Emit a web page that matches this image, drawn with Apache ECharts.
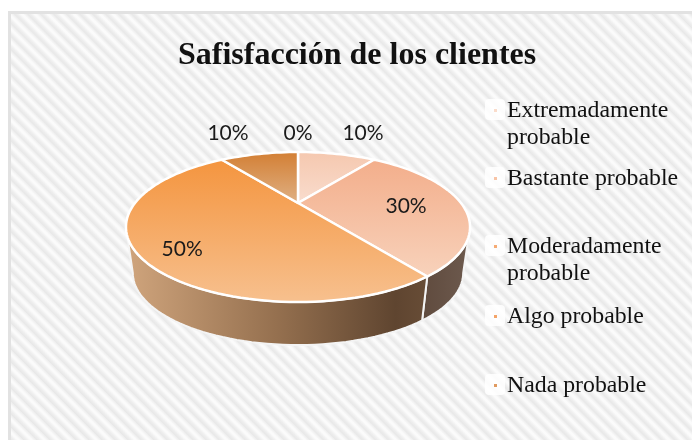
<!DOCTYPE html>
<html>
<head>
<meta charset="utf-8">
<script src="https://cdn.jsdelivr.net/npm/echarts@6/dist/echarts.min.js"></script>
<style>
html,body{margin:0;padding:0;background:#fff;}
#frame{position:absolute;left:8px;top:11px;width:684px;height:429px;box-sizing:border-box;
 border-left:3px solid #e2e2e2;border-top:3px solid #e2e2e2;
 background:repeating-linear-gradient(45deg,#e8e8e8 0px,#eeeeee 2px,#fbfbfb 4.6px,#fbfbfb 6px,#eeeeee 8.5px,#e8e8e8 9.2px);}
#c{position:absolute;left:0;top:0;width:692px;height:440px;}
</style>
</head>
<body>
<div id="frame"></div>
<div id="c"></div>
<script>
var titleText = 'Safisfacción de los clientes';
var categories = ['Extremadamente\nprobable', 'Bastante probable', 'Moderadamente\nprobable', 'Algo probable', 'Nada probable'];
var values = [10, 30, 50, 10, 0];
var labels = ['10%', '30%', '50%', '10%', '0%'];
var topColors = [['#f5c8af', '#f9dccd'], ['#f3ae8b', '#f8d2bb'], ['#f4953f', '#f7c08e'], ['#d37f34', '#dfb083'], ['#8a5a2c', '#8a5a2c']];
var legendDots = ['#fadccb', '#f8c4a6', '#f6ab74', '#f4a468', '#e09a60'];

// perspective view of the pie's circular top surface
var CX = 298, CY = 227, A = 163, B = 75, C = 24, P = 0.32;
var DEPTH = 46, SHRINK = 0.96;
function project(deg, r, low) {
  var t = deg * Math.PI / 180, u = r * Math.sin(t), v = r * Math.cos(t), d = 1 + P * v;
  var X = A * u / d, Y = (B * v + C) / d;
  if (low) return [CX + X * SHRINK, CY + DEPTH - Y * SHRINK];
  return [CX + X, CY - Y];
}
var total = values.reduce(function (a, b) { return a + b; }, 0);
function range(i) {
  var s = 0;
  for (var k = 0; k < i; k++) s += values[k];
  return [s / total * 360, (s + values[i]) / total * 360];
}
function arc(a, b, low) {
  var out = [], n = Math.max(2, Math.ceil(Math.abs(b - a) / 2));
  for (var k = 0; k <= n; k++) out.push(project(a + (b - a) * k / n, 1, low));
  return out;
}
function vGrad(c, y0, y1) {
  return new echarts.graphic.LinearGradient(0, y0, 0, y1, [{offset: 0, color: c[0]}, {offset: 1, color: c[1]}], true);
}
var RIGHT = Math.acos(-P) * 180 / Math.PI, LEFT = 360 - RIGHT;
var wallFill = [
  null,
  new echarts.graphic.LinearGradient(420, 0, 470, 0, [{offset: 0, color: '#5f4a3d'}, {offset: 1, color: '#6d5a4e'}], true),
  new echarts.graphic.LinearGradient(128, 0, 425, 0, [{offset: 0, color: '#cfa47c'}, {offset: 0.5, color: '#95704f'}, {offset: 0.9, color: '#5f4530'}, {offset: 1, color: '#674c36'}], true)
];
// label anchors: [angle, radial factor] in the pie's own angular frame
var labelPlace = [[21, 1.667], [94, 0.655], [226, 0.81], [337.5, 1.68], [360, 1.54]];
var labelFont = {fontFamily: 'Lato', fontSize: 21, fill: '#1a1a1a', align: 'center', verticalAlign: 'middle'};

function renderWall(params, api) {
  var i = params.dataIndex, r = range(i);
  var a = Math.max(r[0], RIGHT), b = Math.min(r[1], LEFT);
  if (b <= a || !wallFill[i]) return {type: 'group', children: []};
  var pts = arc(a, b, false).concat(arc(b, a, true));
  return {type: 'polygon', shape: {points: pts}, style: {fill: wallFill[i], stroke: '#f4f4f4', lineWidth: 2}};
}
function renderTop(params, api) {
  var i = params.dataIndex, r = range(i), kids = [];
  if (api.value(0) > 0) {
    var pts = [project(0, 0)].concat(arc(r[0], r[1], false));
    var ys = pts.map(function (p) { return p[1]; });
    kids.push({type: 'polygon', shape: {points: pts},
      style: {fill: vGrad(topColors[i], Math.min.apply(null, ys), Math.max.apply(null, ys)), stroke: '#ffffff', lineWidth: 2.5, lineJoin: 'round'}});
  }
  var lp = project(labelPlace[i][0], labelPlace[i][1]);
  kids.push({type: 'text', z2: 10, x: lp[0], y: lp[1], style: Object.assign({text: labels[i]}, labelFont)});
  return {type: 'group', children: kids};
}

// legend, stacked by line count with the original's row rhythm
var legendTop = 110, rowGaps = [68, 68, 70, 69], lineH = 27;
var legendEls = [], y = legendTop;
categories.forEach(function (name, i) {
  legendEls.push({type: 'rect', left: 485, top: y - 11, z: 1, shape: {width: 20, height: 21, r: 4}, style: {fill: 'rgba(255,255,255,0.85)'}});
  legendEls.push({type: 'rect', left: 494, top: y - 1, z: 2, shape: {width: 3, height: 3}, style: {fill: legendDots[i]}});
  legendEls.push({type: 'text', left: 507, top: y - 13, z: 2, style: {text: name, fontFamily: 'Liberation Serif', fontSize: 23.8, lineHeight: lineH, fill: '#111'}});
  y += rowGaps[i] || 0;
});

var chart = echarts.init(document.getElementById('c'), null, {renderer: 'canvas', width: 692, height: 440});
chart.setOption({
  backgroundColor: 'transparent',
  animation: false,
  title: {text: titleText, left: 178, top: 40,
    textStyle: {fontFamily: 'Liberation Serif', fontWeight: 'bold', fontSize: 32, color: '#111'}, padding: 0},
  graphic: legendEls,
  series: [
    {type: 'custom', coordinateSystem: 'none', z: 2, data: values, renderItem: renderWall, silent: true},
    {type: 'custom', coordinateSystem: 'none', z: 3, data: values, renderItem: renderTop, silent: true}
  ]
});
</script>
</body>
</html>
